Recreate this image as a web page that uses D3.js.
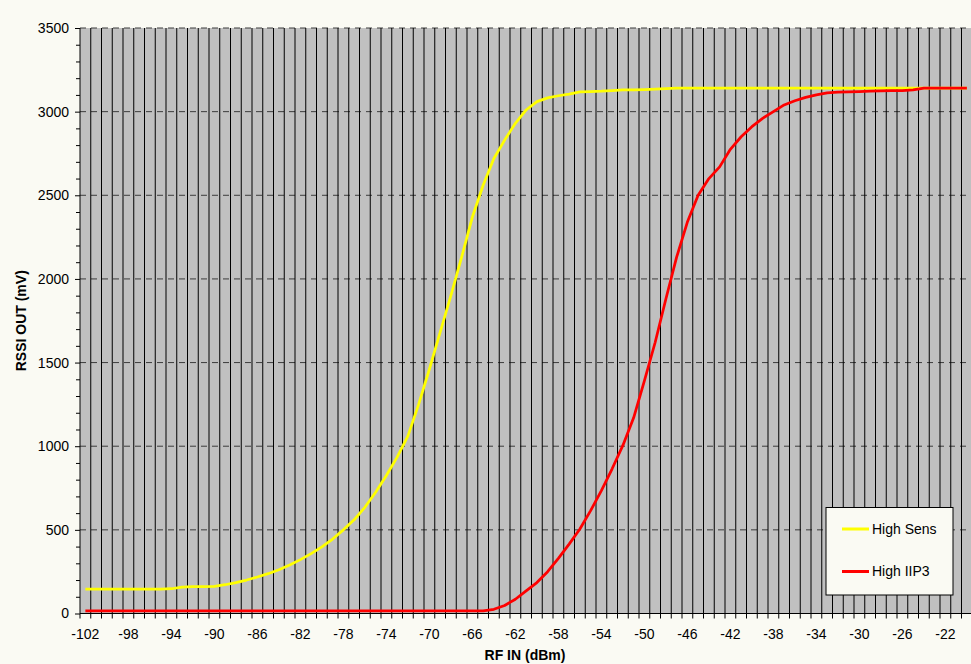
<!DOCTYPE html>
<html>
<head>
<meta charset="utf-8">
<script src="https://cdn.jsdelivr.net/npm/d3@7"></script>
<style>
  body { margin: 0; background: #fafaf3; }
  svg { display: block; font-family: "Liberation Sans", Arial, sans-serif; }
</style>
</head>
<body>
<div id="chart"></div>
<script>
// RF input levels (dBm), one category per dBm
var rfIn = [-102, -101, -100, -99, -98, -97, -96, -95, -94, -93, -92, -91, -90, -89, -88, -87,
    -86, -85, -84, -83, -82, -81, -80, -79, -78, -77, -76, -75, -74, -73, -72, -71, -70, -69,
    -68, -67, -66, -65, -64, -63, -62, -61, -60, -59, -58, -57, -56, -55, -54, -53, -52, -51,
    -50, -49, -48, -47, -46, -45, -44, -43, -42, -41, -40, -39, -38, -37, -36, -35, -34, -33,
    -32, -31, -30, -29, -28, -27, -26, -25, -24, -23, -22, -21, -20];

// RSSI out (mV) - High Sens
var highSens = [145, 145, 145, 145, 145, 145, 145, 145, 148, 158, 160, 160, 162, 172, 185, 200,
    218, 238, 262, 290, 322, 358, 398, 445, 500, 560, 635, 725, 825, 935, 1060, 1250, 1460, 1680,
    1900, 2130, 2370, 2560, 2720, 2830, 2930, 3010, 3060, 3082, 3095, 3105, 3118, 3120, 3122, 3126, 3130, 3130,
    3132, 3134, 3137, 3140, 3140, 3140, 3140, 3140, 3140, 3140, 3140, 3140, 3140, 3140, 3140, 3140, 3140, 3140,
    3140, 3140, 3140, 3140, 3140, 3140, 3140, 3140, 3140, 3140, 3140, 3140, 3140];

// RSSI out (mV) - High IIP3
var highIIP3 = [15, 15, 15, 15, 15, 15, 15, 15, 15, 15, 15, 15, 15, 15, 15, 15,
    15, 15, 15, 15, 15, 15, 15, 15, 15, 15, 15, 15, 15, 15, 15, 15, 15, 15,
    15, 15, 15, 16, 25, 48, 85, 135, 185, 250, 330, 415, 505, 615, 735, 865, 1005, 1170,
    1390, 1620, 1880, 2130, 2340, 2500, 2600, 2670, 2775, 2850, 2910, 2960, 3000, 3040, 3065, 3085, 3100, 3112,
    3116, 3118, 3120, 3122, 3124, 3125, 3126, 3130, 3140, 3140, 3140, 3140, 3140];

var xTickLabels = [-102, -98, -94, -90, -86, -82, -78, -74, -70, -66, -62, -58, -54, -50, -46, -42, -38, -34, -30, -26, -22];
var yTicks = [0, 500, 1000, 1500, 2000, 2500, 3000, 3500];
var yMinorTicks = [100, 200, 300, 400, 600, 700, 800, 900, 1100, 1200, 1300, 1400, 1600, 1700, 1800, 1900,
    2100, 2200, 2300, 2400, 2600, 2700, 2800, 2900, 3100, 3200, 3300, 3400];

var seriesNames = ["High Sens", "High IIP3"];
var seriesColors = ["#ffff00", "#ff0000"];

var W = 971, H = 664;
var plotL = 80, plotR = 972.25, plotT = 28, plotB = 613.5;

var svg = d3.select("#chart").append("svg")
    .attr("width", W)
    .attr("height", H);

var x = d3.scaleBand()
    .domain(rfIn)
    .range([plotL, plotR])
    .padding(0);
var bw = x.bandwidth();

var y = d3.scaleLinear()
    .domain([0, 3500])
    .range([plotB, plotT]);

// plot area
svg.append("rect")
    .attr("x", plotL)
    .attr("y", plotT)
    .attr("width", plotR - plotL)
    .attr("height", plotB - plotT)
    .attr("fill", "#c0c0c0");

// horizontal dashed gridlines
svg.selectAll(".hgrid")
    .data(yTicks.slice(1))
    .enter()
    .append("line")
    .attr("x1", plotL)
    .attr("x2", plotR)
    .attr("y1", function(d) { return y(d); })
    .attr("y2", function(d) { return y(d); })
    .attr("stroke", "#3c3c3c")
    .attr("stroke-width", 1)
    .attr("stroke-dasharray", "6,5");

// vertical gridlines between the categories
svg.selectAll(".vgrid")
    .data(rfIn.slice(1))
    .enter()
    .append("line")
    .attr("x1", function(d) { return x(d); })
    .attr("x2", function(d) { return x(d); })
    .attr("y1", plotT)
    .attr("y2", plotB)
    .attr("stroke", "#000")
    .attr("stroke-width", 1);

// y axis (minor + major ticks)
svg.append("g")
    .attr("transform", "translate(" + plotL + ",0)")
    .call(d3.axisLeft(y).tickValues(yMinorTicks).tickSize(4).tickSizeOuter(0).tickFormat(""))
    .call(function(g) { g.select(".domain").remove(); })
    .selectAll("line").attr("stroke", "#000");

var yAxis = svg.append("g")
    .attr("transform", "translate(" + plotL + ",0)")
    .call(d3.axisLeft(y).tickValues(yTicks).tickFormat(d3.format("d"))
        .tickSize(5).tickSizeOuter(0).tickPadding(6));
yAxis.select(".domain").remove();
yAxis.selectAll("text").style("font-size", "14px").attr("fill", "#000");
yAxis.selectAll("line").attr("stroke", "#000");

// x axis labels at category centres
var xAxis = svg.append("g")
    .attr("transform", "translate(0," + plotB + ")")
    .call(d3.axisBottom(x).tickValues(xTickLabels).tickSize(0).tickPadding(16));
xAxis.select(".domain").remove();
xAxis.selectAll("text").style("font-size", "14px").attr("fill", "#000");

// x tick marks at category boundaries
svg.selectAll(".xtick")
    .data(rfIn)
    .enter()
    .append("line")
    .attr("x1", function(d) { return x(d); })
    .attr("x2", function(d) { return x(d); })
    .attr("y1", plotB)
    .attr("y2", plotB + 5)
    .attr("stroke", "#000");

// axis lines
svg.append("line")
    .attr("x1", plotL).attr("x2", plotL)
    .attr("y1", plotT).attr("y2", plotB)
    .attr("stroke", "#000");
svg.append("line")
    .attr("x1", plotL).attr("x2", plotR)
    .attr("y1", plotB).attr("y2", plotB)
    .attr("stroke", "#000");

// curves
var line = d3.line()
    .x(function(d) { return x(d[0]) + bw / 2; })
    .y(function(d) { return y(d[1]); });

[highSens, highIIP3].forEach(function(values, i) {
    svg.append("path")
        .datum(rfIn.map(function(r, j) { return [r, values[j]]; }))
        .attr("fill", "none")
        .attr("stroke", seriesColors[i])
        .attr("stroke-width", 2.75)
        .attr("stroke-linejoin", "round")
        .attr("d", line);
});

// axis titles
svg.append("text")
    .attr("x", 525)
    .attr("y", 660)
    .attr("text-anchor", "middle")
    .style("font-size", "14px")
    .style("font-weight", "bold")
    .text("RF IN (dBm)");

svg.append("text")
    .attr("transform", "translate(26," + ((plotT + plotB) / 2) + ") rotate(-90)")
    .attr("text-anchor", "middle")
    .style("font-size", "14px")
    .style("font-weight", "bold")
    .text("RSSI OUT (mV)");

// legend
var legend = svg.append("g");
legend.append("rect")
    .attr("x", 826)
    .attr("y", 507.5)
    .attr("width", 127)
    .attr("height", 87.5)
    .attr("fill", "#fafaf3")
    .attr("stroke", "#000");

seriesNames.forEach(function(name, i) {
    var ly = 529 + i * 42.5;
    legend.append("line")
        .attr("x1", 842).attr("x2", 869)
        .attr("y1", ly).attr("y2", ly)
        .attr("stroke", seriesColors[i])
        .attr("stroke-width", 3);
    legend.append("text")
        .attr("x", 872)
        .attr("y", ly)
        .attr("dy", "0.35em")
        .style("font-size", "14px")
        .text(name);
});
</script>
</body>
</html>
